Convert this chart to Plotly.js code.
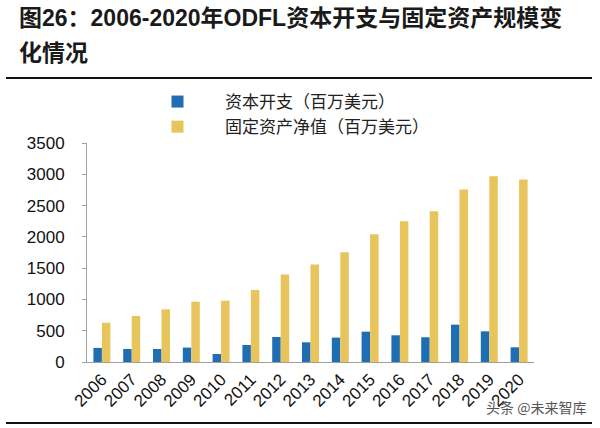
<!DOCTYPE html>
<html>
<head>
<meta charset="utf-8">
<script src="https://cdn.plot.ly/plotly-3.0.1.min.js"></script>
<style>html,body{margin:0;padding:0;background:#fff}#chart{width:600px;height:428px}</style>
</head>
<body>
<div id="chart"></div>
<script>
const years = ["2006","2007","2008","2009","2010","2011","2012","2013","2014","2015","2016","2017","2018","2019","2020"];
const capex = [225, 208, 208, 230, 128, 272, 400, 315, 390, 485, 427, 395, 597, 490, 235];
const fixedAssets = [628, 735, 842, 964, 980, 1150, 1400, 1560, 1752, 2040, 2250, 2410, 2757, 2970, 2917];
const seriesNames = ["资本开支（百万美元）", "固定资产净值（百万美元）"];
const yTicks = [0, 500, 1000, 1500, 2000, 2500, 3000, 3500];
const titleLines = ["图26：2006-2020年ODFL资本开支与固定资产规模变", "化情况"];

const L = 87, R = 534, T = 143, B = 362;
const px = x => (x - L) / (R - L);
const py = y => (B - y) / (B - T);

const traces = [
  {type: "bar", x: years, y: capex, name: seriesNames[0], marker: {color: "#1f6db3"}},
  {type: "bar", x: years, y: fixedAssets, name: seriesNames[1], marker: {color: "#e8c45c"}}
];

const titleFont = {family: "Liberation Sans, Noto Sans CJK SC, sans-serif", size: 23, color: "#1a1a1a"};

const layout = {
  width: 600, height: 428,
  margin: {l: L, r: 600 - R, t: T, b: 428 - B, pad: 0},
  paper_bgcolor: "#fff", plot_bgcolor: "#fff",
  font: {family: "Liberation Sans, Arial, sans-serif", color: "#111"},
  barmode: "group", bargap: 0.43, bargroupgap: 0,
  xaxis: {
    type: "category", tickangle: -45, showgrid: false, zeroline: false,
    showline: true, linecolor: "#a0a0a0", linewidth: 1, ticks: "",
    tickfont: {size: 17, color: "#111"}, fixedrange: true
  },
  yaxis: {
    range: [0, 3500], tickvals: yTicks, showgrid: false, zeroline: false,
    showline: true, linecolor: "#a0a0a0", linewidth: 1, ticks: "outside", ticklen: 4, tickcolor: "#a0a0a0",
    tickfont: {size: 17, color: "#111"}, ticklabelstandoff: 14, fixedrange: true
  },
  showlegend: true,
  legend: {
    x: px(130), y: py(84), xanchor: "left", yanchor: "top", orientation: "v",
    itemwidth: 85, bgcolor: "rgba(0,0,0,0)", borderwidth: 0,
    font: {family: "Noto Sans CJK SC, sans-serif", size: 17, color: "#222"},
    tracegroupgap: 0
  },
  shapes: [
    {type: "line", xref: "paper", yref: "paper", x0: px(6), x1: px(592), y0: py(78), y1: py(78), line: {color: "#111", width: 2}},
    {type: "line", xref: "paper", yref: "paper", x0: px(6), x1: px(592), y0: py(423), y1: py(423), line: {color: "#111", width: 2}}
  ],
  annotations: [
    {xref: "paper", yref: "paper", x: px(17), y: py(18), xanchor: "left", yanchor: "middle", showarrow: false,
     text: "<b>" + titleLines[0] + "</b>", font: titleFont},
    {xref: "paper", yref: "paper", x: px(17), y: py(53), xanchor: "left", yanchor: "middle", showarrow: false,
     text: "<b>" + titleLines[1] + "</b>", font: titleFont},
    {xref: "paper", yref: "paper", x: px(588), y: py(407), xanchor: "right", yanchor: "middle", showarrow: false,
     text: "头条 @未来智库", font: {family: "Noto Sans CJK SC, sans-serif", size: 14, color: "#555"}}
  ]
};

Plotly.newPlot("chart", traces, layout, {staticPlot: true, displayModeBar: false});
</script>
</body>
</html>
